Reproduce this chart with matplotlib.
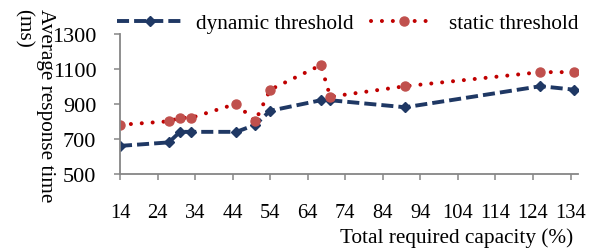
import matplotlib.pyplot as plt

# data
capacity = [14, 27, 30, 33, 45, 50, 54, 67.5, 70, 90, 126, 135]
dynamic_threshold = [660, 680, 740, 740, 740, 780, 860, 920, 920, 880, 1000, 980]
static_threshold = [780, 800, 820, 820, 900, 800, 980, 1120, 940, 1000, 1080, 1080]
x_ticks = [14, 24, 34, 44, 54, 64, 74, 84, 94, 104, 114, 124, 134]
y_ticks = [500, 700, 900, 1100, 1300]

plt.rcParams['font.family'] = ['Liberation Serif', 'DejaVu Serif']
plt.rcParams['font.size'] = 15.3

fig = plt.figure(figsize=(5.99, 2.51), dpi=100)
ax = fig.add_axes([0.2003, 0.3028, 0.7647, 0.5597])

ax.plot(capacity, dynamic_threshold, color='#1F3864', linewidth=2.8,
        dashes=(3.1, 1.3), marker='D', markersize=5.5,
        label='dynamic threshold')
ax.plot(capacity, static_threshold, color='#C00000', linewidth=2.9,
        dashes=(0.01, 2.7), dash_capstyle='round', marker='o',
        markersize=6.5, markerfacecolor='#C0504D', markeredgecolor='#C0504D',
        label='static threshold')

ax.set_xlim(14, 136)
ax.set_ylim(500, 1300)
ax.set_xticks(x_ticks)
ax.set_yticks(y_ticks)

for side in ['top', 'right']:
    ax.spines[side].set_visible(False)
for side in ['left', 'bottom']:
    ax.spines[side].set_color('#868686')
    ax.spines[side].set_linewidth(1.3)
ax.tick_params(axis='both', direction='out', length=4, width=1.1, color='#868686',
               labelcolor='black')
ax.tick_params(axis='x', pad=17, labelsize=14.8)
ax.tick_params(axis='y', pad=13, labelsize=16)

fig.text(34 / 599, 1 - 9 / 251, 'Average response time\n(ms)', rotation=-90,
         ha='center', va='top', multialignment='left', linespacing=1.2)
fig.text(573 / 599, 1 - 238 / 251, 'Total required capacity (%)',
         ha='right', va='center')

fig.legend(loc='center', bbox_to_anchor=(348 / 599, 1 - 24 / 251), ncol=2,
           frameon=False, handlelength=3.1, handletextpad=0.6,
           columnspacing=0.8, borderpad=0, borderaxespad=0)

fig.savefig('out.png', dpi=100)
